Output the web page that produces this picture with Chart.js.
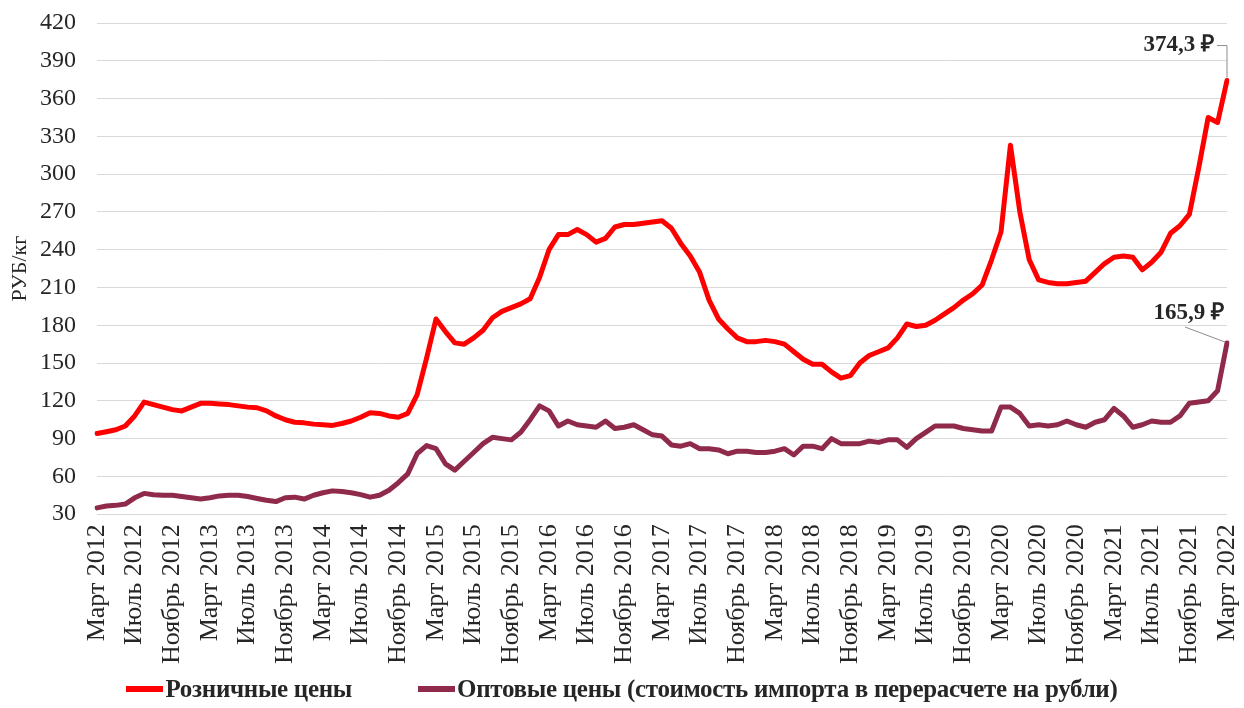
<!DOCTYPE html>
<html>
<head>
<meta charset="utf-8">
<script src="https://cdn.jsdelivr.net/npm/chart.js@4.4.1/dist/chart.umd.min.js"></script>
<style>
  html, body { margin: 0; padding: 0; background: #fff; }
  #wrap { width: 1244px; height: 708px; position: relative; }
  #legend {
    position: absolute; left: 0; top: 675px; width: 1244px;
    display: flex; justify-content: center; align-items: center;
    font-family: 'Liberation Serif', 'Times New Roman', serif;
    font-weight: bold; font-size: 25px; color: #262626; letter-spacing: -0.3px;
  }
  .item { display: flex; align-items: center; margin: 0 33px; }
  .swatch { width: 37px; height: 6px; margin-right: 2px; }
</style>
</head>
<body>
<div id="wrap">
  <canvas id="myChart" width="1244" height="708"></canvas>
  <div id="legend"></div>
</div>
<script>
// Month names used for the category labels (Mar 2012 .. Mar 2022, monthly)
const monthNames = ['Январь', 'Февраль', 'Март', 'Апрель', 'Май', 'Июнь',
                    'Июль', 'Август', 'Сентябрь', 'Октябрь', 'Ноябрь', 'Декабрь'];
const startYear = 2012;
const startMonth = 2; // March
const monthCount = 121;

// Retail prices, RUB/kg
const retailPrices = [
  94, 95.5, 97, 100, 108, 119, 117, 115, 113, 112,
  115, 118, 118, 117.5, 117, 116, 115, 114.5, 112, 108,
  105, 103, 102.5, 101.5, 101, 100.5, 102, 104, 107, 110.5,
  110, 108, 107, 110, 125, 154, 185, 175, 166, 165,
  170, 176, 186, 191, 194, 197, 201, 218, 240, 252,
  252, 256, 252, 246, 249, 258, 260, 260, 261, 262,
  263, 257, 245, 235, 222, 200, 185, 177, 170, 167,
  167, 168, 167, 165, 159, 153, 149, 149, 143, 138,
  140, 150, 156, 159, 162, 170, 181, 179, 180, 184,
  189, 194, 200, 205, 212, 232, 254, 323, 270, 232,
  216, 214, 213, 213, 214, 215, 222, 229, 234, 235,
  234, 224, 230, 238, 253, 259, 268, 305, 345, 341,
  374.3
];

// Wholesale prices (import cost converted to rubles), RUB/kg
const wholesalePrices = [
  35, 36.5, 37, 38, 43, 46.5, 45.5, 45, 45, 44,
  43, 42, 43, 44.5, 45, 45, 44, 42.5, 41, 40,
  43, 43.5, 42, 45, 47, 48.5, 48, 47, 45.5, 43.5,
  45, 49, 55, 62, 78, 84.5, 82, 70, 65, 72,
  79, 86, 91, 90, 89, 95, 105, 116, 112, 100,
  104, 101, 100, 99, 104, 98, 99, 101, 97, 93,
  92, 85, 84, 86, 82, 82, 81, 78, 80, 80,
  79, 79, 80, 82, 77, 84, 84, 82, 90, 86,
  86, 86, 88, 87, 89, 89, 83, 90, 95, 100,
  100, 100, 98, 97, 96, 96, 115, 115, 110, 100,
  101, 100, 101, 104, 101, 99, 103, 105, 114, 108,
  99, 101, 104, 103, 103, 108, 118, 119, 120, 128,
  165.9
];

const seriesNames = ['Розничные цены', 'Оптовые цены (стоимость импорта в перерасчете на рубли)'];
const seriesColors = ['#ff0000', '#8f2a4a'];
const lastLabels = ['374,3 ₽', '165,9 ₽'];
const yTicks = { min: 30, max: 420, step: 30 };

// Build the category labels
const labels = [];
for (let i = 0; i < monthCount; i++) {
    const m = (startMonth + i) % 12;
    const y = startYear + Math.floor((startMonth + i) / 12);
    labels.push(monthNames[m] + ' ' + y);
}

const serif = "'Liberation Serif', 'Times New Roman', serif";

// Draws the value callouts for the last points
const calloutPlugin = {
    id: 'callouts',
    afterDatasetsDraw(chart) {
        const c = chart.ctx;
        c.save();
        c.font = 'bold 23px ' + serif;
        c.fillStyle = '#262626';
        c.strokeStyle = '#8c8c8c';
        c.lineWidth = 1;
        c.textBaseline = 'middle';
        c.textAlign = 'right';

        // retail
        const p0 = chart.getDatasetMeta(0).data[monthCount - 1];
        const ty0 = p0.y - 35;
        c.fillText(lastLabels[0], p0.x - 13, ty0);
        c.beginPath();
        c.moveTo(p0.x - 10, ty0);
        c.lineTo(p0.x, ty0);
        c.lineTo(p0.x, p0.y - 3);
        c.stroke();

        // wholesale
        const p1 = chart.getDatasetMeta(1).data[monthCount - 1];
        const ty1 = p1.y - 30;
        c.fillText(lastLabels[1], p1.x - 3, ty1);
        c.beginPath();
        c.moveTo(p1.x - 42, ty1 + 14);
        c.lineTo(p1.x - 2, p1.y - 1);
        c.stroke();
        c.restore();
    }
};

const ctx = document.getElementById('myChart').getContext('2d');
const chart = new Chart(ctx, {
    type: 'line',
    data: {
        labels: labels,
        datasets: [
            {
                label: seriesNames[0],
                data: retailPrices,
                borderColor: seriesColors[0],
                backgroundColor: seriesColors[0],
                borderWidth: 5,
                pointRadius: 0,
                tension: 0,
                borderJoinStyle: 'round',
                borderCapStyle: 'round'
            },
            {
                label: seriesNames[1],
                data: wholesalePrices,
                borderColor: seriesColors[1],
                backgroundColor: seriesColors[1],
                borderWidth: 5,
                pointRadius: 0,
                tension: 0,
                borderJoinStyle: 'round',
                borderCapStyle: 'round'
            }
        ]
    },
    options: {
        responsive: false,
        animation: false,
        layout: {
            padding: { left: 0, right: 17, top: 23, bottom: 42 }
        },
        scales: {
            x: {
                offset: false,
                grid: { display: false },
                border: { display: false },
                afterFit: function(scale) {
                    // no extra room for the rotated end labels
                    scale.paddingLeft = 0;
                    scale.paddingRight = 0;
                },
                ticks: {
                    autoSkip: false,
                    minRotation: 90,
                    maxRotation: 90,
                    padding: 2,
                    color: '#262626',
                    font: { family: serif, size: 26 },
                    callback: function(value, index) {
                        return index % 4 === 0 ? labels[index] : '';
                    }
                }
            },
            y: {
                min: yTicks.min,
                max: yTicks.max,
                grid: { color: '#d9d9d9', drawTicks: false },
                border: { display: false },
                afterFit: function(scale) {
                    scale.width = 97;
                    scale.paddingTop = 0;
                    scale.paddingBottom = 0;
                },
                ticks: {
                    stepSize: yTicks.step,
                    padding: 21,
                    color: '#262626',
                    font: { family: serif, size: 24 }
                },
                title: {
                    display: true,
                    text: 'РУБ/кг',
                    color: '#262626',
                    font: { family: serif, size: 22 },
                    padding: { top: 7, bottom: 0 }
                }
            }
        },
        plugins: {
            legend: { display: false },
            tooltip: { enabled: false }
        }
    },
    plugins: [calloutPlugin]
});

// Legend below the chart, built from the datasets
const legendEl = document.getElementById('legend');
chart.data.datasets.forEach(function(ds) {
    const item = document.createElement('div');
    item.className = 'item';
    const sw = document.createElement('span');
    sw.className = 'swatch';
    sw.style.background = ds.borderColor;
    const txt = document.createElement('span');
    txt.textContent = ds.label;
    item.appendChild(sw);
    item.appendChild(txt);
    legendEl.appendChild(item);
});
</script>
</body>
</html>
